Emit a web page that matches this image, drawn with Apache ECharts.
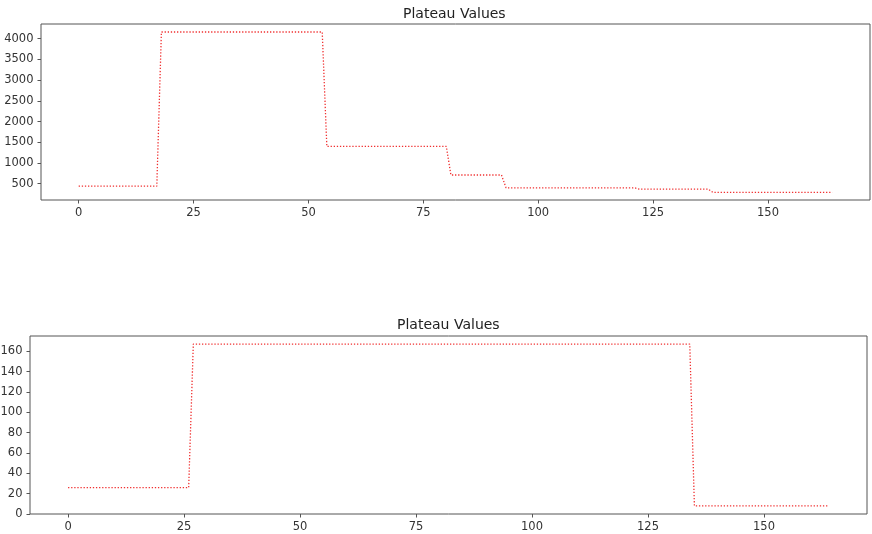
<!DOCTYPE html>
<html>
<head>
<meta charset="utf-8">
<script src="https://cdn.jsdelivr.net/npm/echarts@6/dist/echarts.min.js"></script>
<style>
  html, body { margin: 0; padding: 0; background: #fff; }
  #chart { width: 872px; height: 534px; }
</style>
</head>
<body>
<div id="chart"></div>
<script>
// plateau values, one per step index (0..164)
var topValues = [
  440, 440, 440, 440, 440, 440, 440, 440, 440, 440, 440, 440, 440, 440, 440, 440, 440, 440,
  4160, 4160, 4160, 4160, 4160, 4160, 4160, 4160, 4160, 4160, 4160, 4160, 4160, 4160, 4160, 4160, 4160, 4160,
  4160, 4160, 4160, 4160, 4160, 4160, 4160, 4160, 4160, 4160, 4160, 4160, 4160, 4160, 4160, 4160, 4160, 4160,
  1400, 1400, 1400, 1400, 1400, 1400, 1400, 1400, 1400, 1400, 1400, 1400, 1400, 1400, 1400, 1400, 1400, 1400,
  1400, 1400, 1400, 1400, 1400, 1400, 1400, 1400, 1400,
  710, 710, 710, 710, 710, 710, 710, 710, 710, 710, 710, 710,
  400, 400, 400, 400, 400, 400, 400, 400, 400, 400, 400, 400, 400, 400, 400, 400, 400, 400, 400, 400,
  400, 400, 400, 400, 400, 400, 400, 400, 400,
  370, 370, 370, 370, 370, 370, 370, 370, 370, 370, 370, 370, 370, 370, 370, 370,
  290, 290, 290, 290, 290, 290, 290, 290, 290, 290, 290, 290, 290, 290, 290, 290, 290, 290, 290, 290,
  290, 290, 290, 290, 290, 290, 290
];

var bottomValues = [
  26, 26, 26, 26, 26, 26, 26, 26, 26, 26, 26, 26, 26, 26, 26, 26, 26, 26, 26, 26, 26, 26, 26, 26, 26, 26, 26,
  167, 167, 167, 167, 167, 167, 167, 167, 167, 167, 167, 167, 167, 167, 167, 167, 167, 167, 167, 167,
  167, 167, 167, 167, 167, 167, 167, 167, 167, 167, 167, 167, 167, 167, 167, 167, 167, 167, 167, 167,
  167, 167, 167, 167, 167, 167, 167, 167, 167, 167, 167, 167, 167, 167, 167, 167, 167, 167, 167, 167,
  167, 167, 167, 167, 167, 167, 167, 167, 167, 167, 167, 167, 167, 167, 167, 167, 167, 167, 167, 167,
  167, 167, 167, 167, 167, 167, 167, 167, 167, 167, 167, 167, 167, 167, 167, 167, 167, 167, 167, 167,
  167, 167, 167, 167, 167, 167, 167, 167,
  8, 8, 8, 8, 8, 8, 8, 8, 8, 8, 8, 8, 8, 8, 8, 8, 8, 8, 8, 8, 8, 8, 8, 8, 8, 8, 8, 8, 8, 8
];

var xTicks = [0, 25, 50, 75, 100, 125, 150];
var topYTicks = [500, 1000, 1500, 2000, 2500, 3000, 3500, 4000];
var bottomYTicks = [0, 20, 40, 60, 80, 100, 120, 140, 160];

var titleText = "Plateau Values";

var font = "DejaVu Sans";
var textColor = "#333";
var frameColor = "#555";

function pairs(vals) {
  return vals.map(function (v, i) { return [i, v]; });
}

function plain(v) {
  return String(v);
}

function xAxisFor(gridIndex) {
  return {
    type: "value",
    gridIndex: gridIndex,
    min: -8.2,
    max: 172.2,
    splitLine: { show: false },
    axisLine: { show: false, onZero: false },
    axisTick: {
      show: true, length: 3.5, customValues: xTicks,
      lineStyle: { color: frameColor, width: 1 }
    },
    axisLabel: {
      customValues: xTicks, margin: 7, formatter: plain,
      color: textColor, fontFamily: font, fontSize: 11.5
    }
  };
}

function yAxisFor(gridIndex, min, max, ticks) {
  return {
    type: "value",
    gridIndex: gridIndex,
    min: min,
    max: max,
    splitLine: { show: false },
    axisLine: { show: false, onZero: false },
    axisTick: {
      show: true, length: 3.5, customValues: ticks,
      lineStyle: { color: frameColor, width: 1 }
    },
    axisLabel: {
      customValues: ticks, margin: 7.5, formatter: plain,
      color: textColor, fontFamily: font, fontSize: 11.5
    }
  };
}

function lineSeries(idx, vals) {
  return {
    type: "line",
    xAxisIndex: idx,
    yAxisIndex: idx,
    data: pairs(vals),
    showSymbol: false,
    symbol: "none",
    lineStyle: { color: "#f03030", width: 1.3, type: [1.3, 1.8] }
  };
}

var myChart = echarts.init(document.getElementById("chart"), null, { renderer: "canvas" });

var option = {
  animation: false,
  backgroundColor: "#fff",
  title: [
    {
      text: titleText, left: 403, top: 7, padding: 0,
      textStyle: { fontFamily: font, fontSize: 14, fontWeight: "normal", color: "#222" }
    },
    {
      text: titleText, left: 397, top: 318, padding: 0,
      textStyle: { fontFamily: font, fontSize: 14, fontWeight: "normal", color: "#222" }
    }
  ],
  grid: [
    { left: 41, right: 2, top: 24, bottom: 334, outerBoundsMode: "none", show: true, borderColor: frameColor, borderWidth: 1, backgroundColor: "#fff" },
    { left: 30, right: 5, top: 336, bottom: 20, outerBoundsMode: "none", show: true, borderColor: frameColor, borderWidth: 1, backgroundColor: "#fff" }
  ],
  xAxis: [xAxisFor(0), xAxisFor(1)],
  yAxis: [
    yAxisFor(0, 107, 4353, topYTicks),
    yAxisFor(1, 0, 175, bottomYTicks)
  ],
  series: [
    lineSeries(0, topValues),
    lineSeries(1, bottomValues)
  ]
};

myChart.setOption(option);
</script>
</body>
</html>
